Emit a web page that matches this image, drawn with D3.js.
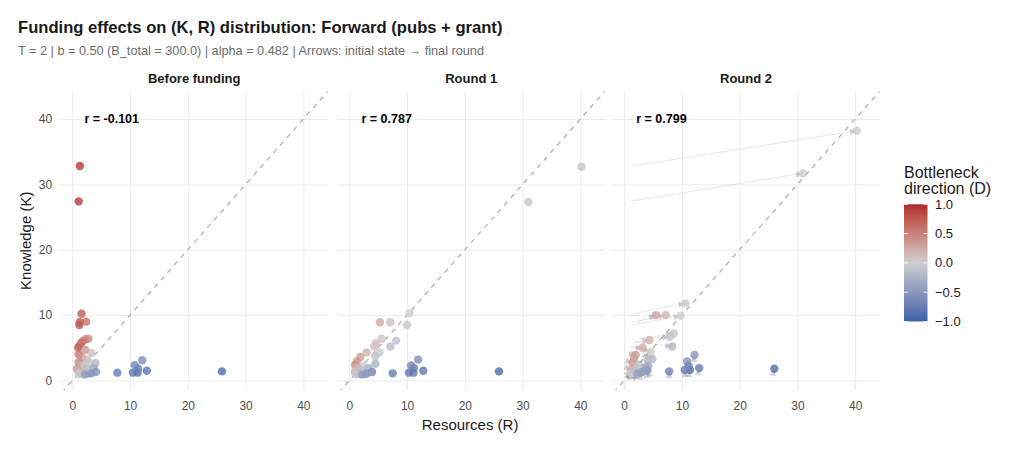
<!DOCTYPE html>
<html>
<head>
<meta charset="utf-8">
<script src="https://cdn.jsdelivr.net/npm/d3@7"></script>
<style>
  body { margin: 0; background: #fff; }
  text { font-family: "Liberation Sans", Arial, sans-serif; }
</style>
</head>
<body>
<svg id="chart" width="1024" height="456"></svg>
<script>
// chart data
const panelTitles = ["Before funding", "Round 1", "Round 2"];
const corrLabels = ["r = -0.101", "r = 0.787", "r = 0.799"];
const axisTicks = [0, 10, 20, 30, 40];
const legendTicks = [1, 0.5, 0, -0.5, -1];

// [R, K, D] for each agent, same agent order in every stage
const beforeFunding = [
  [1.3, 32.8, 0.92], [1.1, 27.4, 0.92], [1.6, 10.2, 0.73], [1.2, 8.5, 0.75],
  [1.3, 8.9, 0.75], [2.4, 9.0, 0.58], [2.8, 6.4, 0.39], [2.3, 6.3, 0.47],
  [1.8, 6.0, 0.54], [1.5, 5.7, 0.58], [1.2, 5.3, 0.63], [1.0, 5.0, 0.67],
  [3.3, 4.2, 0.12], [1.1, 4.0, 0.57], [2.2, 4.7, 0.36], [1.7, 3.5, 0.35],
  [1.1, 2.8, 0.44], [2.5, 3.2, 0.12], [2.8, 2.6, -0.04], [4.0, 2.65, -0.2],
  [3.7, 1.9, -0.32], [1.7, 2.3, 0.15], [0.8, 1.8, 0.38], [2.2, 1.6, -0.16],
  [1.3, 1.2, -0.04], [1.9, 1.1, -0.27], [2.8, 1.1, -0.44], [1.0, 1.5, 0.2],
  [2.4, 1.8, -0.14], [1.5, 1.0, -0.2], [1.1, 1.0, -0.05], [2.2, 0.9, -0.42],
  [4.1, 1.3, -0.52], [3.3, 1.1, -0.5], [7.8, 1.2, -0.73], [10.5, 1.2, -0.8],
  [10.8, 2.35, -0.64], [11.3, 1.2, -0.81], [11.4, 1.8, -0.73], [12.1, 3.1, -0.59],
  [12.9, 1.5, -0.79], [25.9, 1.4, -0.9]
];
const round1 = [
  [40.2, 32.7, -0.1], [31.0, 27.3, -0.06], [10.4, 10.3, 0.0], [10.0, 8.5, -0.08],
  [7.1, 8.9, 0.11], [5.3, 8.9, 0.25], [8.1, 6.1, -0.14], [5.6, 6.4, 0.07],
  [7.1, 5.2, -0.15], [4.6, 5.7, 0.11], [4.3, 5.2, 0.09], [3.0, 4.3, 0.18],
  [5.2, 4.3, -0.09], [1.9, 3.6, 0.31], [4.5, 3.7, -0.1], [1.3, 2.9, 0.38],
  [1.0, 2.4, 0.41], [2.4, 2.25, -0.03], [3.3, 1.9, -0.27], [4.5, 2.55, -0.28],
  [3.9, 1.3, -0.5], [1.5, 2.0, 0.14], [1.0, 1.4, 0.17], [2.3, 1.1, -0.35],
  [1.2, 1.3, 0.04], [1.8, 1.1, -0.24], [2.8, 1.0, -0.47], [1.0, 1.3, 0.13],
  [2.0, 1.6, -0.11], [1.5, 1.0, -0.2], [1.1, 1.0, -0.05], [2.2, 0.9, -0.42],
  [3.9, 1.3, -0.5], [3.0, 1.1, -0.46], [7.5, 1.1, -0.74], [10.3, 1.2, -0.79],
  [10.7, 2.3, -0.65], [11.1, 1.2, -0.8], [11.2, 1.9, -0.71], [11.9, 3.2, -0.58],
  [12.8, 1.5, -0.79], [25.9, 1.4, -0.9]
];
const round2 = [
  [40.3, 38.2, -0.03], [31.0, 31.7, 0.01], [10.6, 11.8, 0.05], [9.8, 9.9, 0.01],
  [7.2, 10.0, 0.16], [5.5, 10.0, 0.29], [8.6, 7.2, -0.09], [7.9, 6.7, -0.08],
  [8.3, 5.2, -0.23], [4.4, 6.2, 0.17], [4.6, 4.4, -0.02], [3.2, 5.0, 0.22],
  [4.1, 3.1, -0.14], [2.0, 3.9, 0.32], [4.9, 3.3, -0.19], [1.7, 3.4, 0.33],
  [1.4, 2.7, 0.32], [2.3, 2.0, -0.07], [3.8, 2.0, -0.31], [4.2, 2.2, -0.31],
  [3.9, 1.6, -0.42], [1.9, 1.5, -0.12], [1.2, 1.6, 0.14], [2.8, 1.3, -0.37],
  [1.3, 1.5, 0.07], [1.9, 1.3, -0.19], [2.8, 1.2, -0.4], [1.1, 1.6, 0.19],
  [2.2, 1.8, -0.1], [1.6, 1.1, -0.19], [1.2, 1.1, -0.04], [2.3, 1.0, -0.39],
  [4.0, 1.5, -0.45], [3.1, 1.3, -0.41], [7.8, 1.4, -0.7], [10.5, 1.6, -0.74],
  [10.9, 2.9, -0.58], [11.4, 1.6, -0.75], [11.2, 2.2, -0.67], [12.2, 3.9, -0.52],
  [13.0, 1.9, -0.74], [26.0, 1.8, -0.87]
];
const stages = [beforeFunding, round1, round2];

const svg = d3.select("svg#chart");
const panelWidth = 268;
const panelLefts = [60.2, 337.2, 612];
const panelTop = 91.5;
const panelBottom = 390;
const textDark = "#1a1a1a";
const tickColor = "#4d4d4d";
const gridColor = "#ebebeb";

const xScale = d3.scaleLinear().domain([-2.1, 44.3]).range([0, panelWidth]);
const yScale = d3.scaleLinear().domain([-1.45, 44.2]).range([panelBottom, panelTop]);
const colorScale = d3
  .scaleLinear()
  .domain([-1, 0, 1])
  .range(["#3a62a8", "#cfcfcf", "#b0282e"])
  .interpolate(d3.interpolateLab)
  .clamp(true);

// titles
svg.append("text")
  .attr("x", 18).attr("y", 33)
  .attr("font-size", 16.6).attr("font-weight", "bold")
  .attr("fill", textDark)
  .text("Funding effects on (K, R) distribution: Forward (pubs + grant)");
svg.append("text")
  .attr("x", 18).attr("y", 55)
  .attr("font-size", 12.7).attr("fill", "#6b6b6b")
  .text("T = 2 | b = 0.50 (B_total = 300.0) | alpha = 0.482 | Arrows: initial state \u2192 final round");

const defs = svg.append("defs");

stages.forEach((stage, p) => {
  const g = svg.append("g").attr("transform", `translate(${panelLefts[p]},0)`);

  defs.append("clipPath").attr("id", `clip${p}`)
    .append("rect")
    .attr("x", 0).attr("y", panelTop)
    .attr("width", panelWidth).attr("height", panelBottom - panelTop);

  // gridlines
  g.append("g")
    .attr("transform", `translate(0,${panelBottom})`)
    .call(d3.axisBottom(xScale).tickValues(axisTicks).tickFormat("").tickSize(-(panelBottom - panelTop)))
    .call((a) => a.select(".domain").remove())
    .selectAll("line").attr("stroke", gridColor);
  g.append("g")
    .call(d3.axisLeft(yScale).tickValues(axisTicks).tickFormat("").tickSize(-panelWidth))
    .call((a) => a.select(".domain").remove())
    .selectAll("line").attr("stroke", gridColor);

  // x tick labels
  const xAxis = g.append("g")
    .attr("transform", `translate(0,${panelBottom})`)
    .call(d3.axisBottom(xScale).tickValues(axisTicks).tickSize(0).tickPadding(11));
  xAxis.select(".domain").remove();
  xAxis.selectAll("text")
    .attr("font-size", 12).attr("fill", tickColor)
    .style("font-family", '"Liberation Sans", Arial, sans-serif');

  if (p === 0) {
    const yAxis = g.append("g")
      .call(d3.axisLeft(yScale).tickValues(axisTicks).tickSize(0).tickPadding(8));
    yAxis.select(".domain").remove();
    yAxis.selectAll("text")
      .attr("font-size", 12).attr("fill", tickColor)
      .style("font-family", '"Liberation Sans", Arial, sans-serif');
  }

  // strip title
  g.append("text")
    .attr("x", panelWidth / 2).attr("y", 78)
    .attr("text-anchor", "middle").attr("dominant-baseline", "central")
    .attr("font-size", 13).attr("font-weight", "bold").attr("fill", textDark)
    .text(panelTitles[p]);

  const plot = g.append("g").attr("clip-path", `url(#clip${p})`);

  // y = x reference
  plot.append("line")
    .attr("x1", xScale(-3)).attr("y1", yScale(-3))
    .attr("x2", xScale(46)).attr("y2", yScale(46))
    .attr("stroke", "#a6a6a6").attr("stroke-width", 1.1)
    .attr("stroke-dasharray", "5,5");

  // arrows from the initial state to the final round
  if (p === 2) {
    const arrows = plot.append("g").attr("class", "arrows");
    beforeFunding.forEach((d, i) => {
      const x1 = xScale(d[0]), y1 = yScale(d[1]);
      const x2 = xScale(round2[i][0]), y2 = yScale(round2[i][1]);
      const ang = Math.atan2(y2 - y1, x2 - x1);
      const len = 7, half = 3.2;
      const bx = x2 - len * Math.cos(ang), by = y2 - len * Math.sin(ang);
      const px = -Math.sin(ang) * half, py = Math.cos(ang) * half;
      arrows.append("line")
        .attr("x1", x1).attr("y1", y1).attr("x2", x2).attr("y2", y2)
        .attr("stroke", "#444").attr("stroke-opacity", 0.18).attr("stroke-width", 0.7);
      arrows.append("path")
        .attr("d", `M${x2},${y2}L${bx + px},${by + py}L${bx - px},${by - py}Z`)
        .attr("fill", "#444").attr("fill-opacity", 0.24);
    });
  }

  plot.append("g")
    .selectAll("circle")
    .data(stage)
    .join("circle")
    .attr("cx", (d) => xScale(d[0]))
    .attr("cy", (d) => yScale(d[1]))
    .attr("r", 4.2)
    .attr("fill", (d) => colorScale(d[2]))
    .attr("fill-opacity", 0.8);

  // correlation label
  g.append("text")
    .attr("x", xScale(2.1)).attr("y", yScale(40))
    .attr("dominant-baseline", "central")
    .attr("font-size", 12.5).attr("font-weight", "bold").attr("fill", "#000")
    .text(corrLabels[p]);
});

// axis titles
svg.append("text")
  .attr("x", (panelLefts[0] + panelLefts[2] + panelWidth) / 2).attr("y", 424)
  .attr("text-anchor", "middle").attr("dominant-baseline", "central")
  .attr("font-size", 15).attr("fill", textDark)
  .text("Resources (R)");
svg.append("text")
  .attr("transform", `translate(25,${(panelTop + panelBottom) / 2}) rotate(-90)`)
  .attr("text-anchor", "middle").attr("dominant-baseline", "central")
  .attr("font-size", 15).attr("fill", textDark)
  .text("Knowledge (K)");

// colour legend
const legendX = 904, legendW = 23.5;
const legendScale = d3.scaleLinear().domain([1, -1]).range([204.3, 321.5]);
const grad = defs.append("linearGradient").attr("id", "dGrad")
  .attr("x1", 0).attr("y1", 1).attr("x2", 0).attr("y2", 0);
d3.range(0, 21).forEach((i) => {
  const v = -1 + i / 10;
  grad.append("stop").attr("offset", `${i * 5}%`).attr("stop-color", colorScale(v));
});
const legend = svg.append("g").attr("class", "legend");
legend.append("text")
  .attr("x", legendX).attr("y", 177.5)
  .attr("font-size", 16).attr("fill", textDark).text("Bottleneck");
legend.append("text")
  .attr("x", legendX).attr("y", 193.5)
  .attr("font-size", 16).attr("fill", textDark).text("direction (D)");
legend.append("rect")
  .attr("x", legendX).attr("y", legendScale(1))
  .attr("width", legendW).attr("height", legendScale(-1) - legendScale(1))
  .attr("fill", "url(#dGrad)");
legendTicks.forEach((t) => {
  [legendX, legendX + legendW - 4].forEach((lx) => {
    legend.append("line")
      .attr("x1", lx).attr("x2", lx + 4)
      .attr("y1", legendScale(t)).attr("y2", legendScale(t))
      .attr("stroke", "#fff").attr("stroke-opacity", 0.8);
  });
  legend.append("text")
    .attr("x", 935).attr("y", legendScale(t))
    .attr("dominant-baseline", "central")
    .attr("font-size", 13).attr("fill", textDark)
    .text(d3.format(".1f")(t));
});
</script>
</body>
</html>
